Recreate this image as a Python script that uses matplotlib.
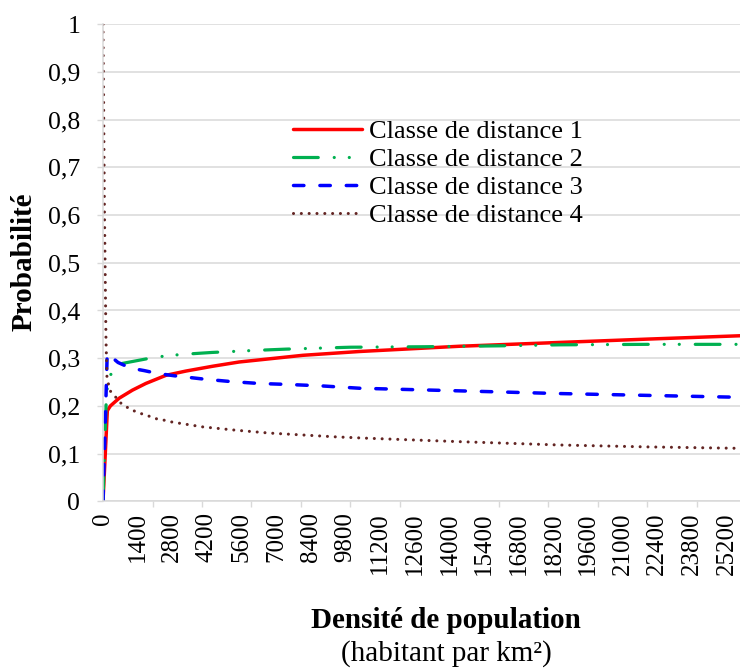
import matplotlib
matplotlib.use('Agg')
import matplotlib.pyplot as plt
import numpy as np

plt.rcParams['font.family'] = ['Liberation Serif', 'DejaVu Serif']

# values (population density -> probability)
red_x = [0, 175, 300, 650, 1190, 1730, 2540, 3350, 4420, 5500, 8070, 10360, 14400, 18450, 22000, 25740]
red_y = [0, 0.19, 0.200, 0.216, 0.233, 0.247, 0.264, 0.273, 0.283, 0.292, 0.306, 0.314, 0.325, 0.333, 0.340, 0.347]

green_x = [0, 135, 200, 377, 780, 2000, 2575, 3210, 4400, 6000, 7400, 10000, 13000, 16200, 18450, 22000, 25740]
green_y = [0, 0.22, 0.25, 0.274, 0.289, 0.301, 0.305, 0.308, 0.312, 0.316, 0.319, 0.323, 0.324, 0.326, 0.328, 0.329, 0.329]

blue_x = [0, 110, 170, 607, 1120, 1660, 2200, 2900, 4100, 5160, 6300, 7440, 8800, 10360, 15500, 18300, 22000, 25740]
blue_y = [0, 0.20, 0.31, 0.291, 0.279, 0.274, 0.268, 0.263, 0.256, 0.251, 0.247, 0.245, 0.242, 0.237, 0.230, 0.226, 0.222, 0.218]

brown_x = [0, 60, 120, 160, 280, 470, 690, 940, 1230, 1530, 1830, 2160, 2470, 2800, 4020, 5370, 6720,
           8070, 9420, 10760, 14400, 18450, 22000, 25740]
brown_y = [1.0, 0.6, 0.34, 0.26, 0.232, 0.221, 0.207, 0.198, 0.190, 0.184, 0.179, 0.173, 0.170, 0.166, 0.156,
           0.149, 0.143, 0.139, 0.135, 0.132, 0.125, 0.118, 0.114, 0.111]

labels = ['Classe de distance 1', 'Classe de distance 2', 'Classe de distance 3', 'Classe de distance 4']
x_ticklabels = [0, 1400, 2800, 4200, 5600, 7000, 8400, 9800, 11200, 12600, 14000, 15400,
                16800, 18200, 19600, 21000, 22400, 23800, 25200]
y_ticks = [0, 0.1, 0.2, 0.3, 0.4, 0.5, 0.6, 0.7, 0.8, 0.9, 1]

grey = '#D9D9D9'

fig = plt.figure(figsize=(7.4, 6.69), dpi=100)
ax = fig.add_axes([0.1392, 0.2507, 0.8608, 0.713])

ax.plot(red_x, red_y, color='#FF0000', lw=2.5, solid_capstyle='round', label=labels[0])
ax.plot(green_x, green_y, color='#00B050', lw=2.3, dash_capstyle='round',
        linestyle=(0, (7.75, 5, 0.01, 4.7, 0.01, 5)), label=labels[1])
ax.plot(blue_x, blue_y, color='#0000FF', lw=2.5, dash_capstyle='round',
        linestyle=(0, (3, 4.6)), label=labels[2])
ax.plot(brown_x, brown_y, color='#632523', lw=2.2, dash_capstyle='round',
        linestyle=(0, (0.01, 2.55)), label=labels[3])

ax.set_xlim(0, 25740)
ax.set_ylim(0, 1)

ax.set_yticks(y_ticks)
ax.set_yticklabels([str(v).replace('.', ',') for v in y_ticks])
ax.tick_params(axis='y', length=4.3, width=1, color=grey, pad=12, labelsize=18.5)

ax.set_xticks(x_ticklabels)
ax.set_xticklabels([str(v) for v in x_ticklabels], rotation=90)
ax.tick_params(axis='x', which='major', length=0, pad=8.0, labelsize=18)
ax.set_xticks(np.arange(0, 25740, 2000), minor=True)
ax.tick_params(axis='x', which='minor', length=4.3, width=1, color=grey)

ax.yaxis.grid(True, color=grey, lw=1.1)
ax.set_axisbelow(True)
for s in ['top', 'right']:
    ax.spines[s].set_visible(False)
for s in ['left', 'bottom']:
    ax.spines[s].set_color(grey)
    ax.spines[s].set_linewidth(1.1)

ax.legend(loc='upper left', bbox_to_anchor=(293/740, 1-120/669), bbox_transform=fig.transFigure,
          frameon=False, fontsize=19, handlelength=2.6, handletextpad=0.27, labelspacing=0.17,
          borderpad=0, borderaxespad=0)

fig.text(24/740, 1-262/669, 'Probabilité', rotation=90, ha='center', va='center',
         fontsize=21, fontweight='bold')
fig.text(446/740, 1-621/669, 'Densité de population', ha='center', va='center',
         fontsize=21, fontweight='bold')
fig.text(446/740, 1-654/669, '(habitant par km²)', ha='center', va='center', fontsize=21)

fig.savefig('out.png', dpi=100)
